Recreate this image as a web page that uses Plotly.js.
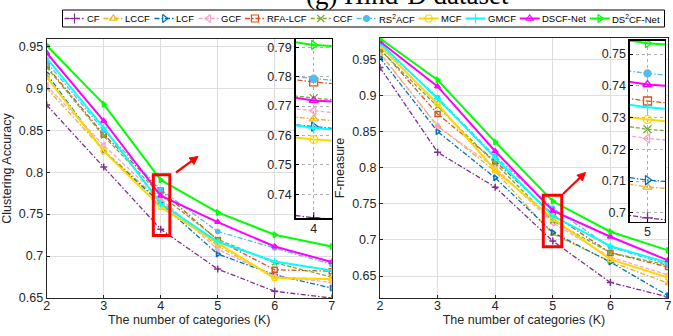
<!DOCTYPE html>
<html><head><meta charset="utf-8">
<script src="https://cdn.plot.ly/plotly-3.0.1.min.js"></script>
<style>html,body{margin:0;padding:0;background:#fff}#chart{width:673px;height:336px}</style>
</head><body><div id="chart"></div>
<script>
// ---------- data ----------
const categories = [2, 3, 4, 5, 6, 7];
const methodNames = ['CF','LCCF','LCF','GCF','RFA-LCF','CCF','RS<sup>2</sup>ACF','MCF','GMCF','DSCF-Net','DS<sup>2</sup>CF-Net'];

// Clustering Accuracy
const accCF    = [0.880, 0.806, 0.7320, 0.6845, 0.658, 0.650];
const accLCCF  = [0.900, 0.826, 0.7656, 0.712, 0.675, 0.672];
const accLCF   = [0.917, 0.825, 0.7630, 0.7024, 0.6777, 0.6619];
const accGCF   = [0.903, 0.832, 0.7684, 0.708, 0.676, 0.6686];
const accRFA   = [0.9265, 0.845, 0.7782, 0.719, 0.6837, 0.682];
const accCCF   = [0.925, 0.843, 0.7727, 0.720, 0.692, 0.675];
const accRS2   = [0.931, 0.850, 0.7793, 0.7293, 0.7095, 0.690];
const accMCF   = [0.9135, 0.825, 0.7586, 0.7155, 0.6735, 0.6726];
const accGMCF  = [0.936, 0.853, 0.7625, 0.717, 0.6936, 0.6829];
const accDSCF  = [0.942, 0.861, 0.7719, 0.7405, 0.7114, 0.6929];
const accDS2CF = [0.951, 0.881, 0.7908, 0.752, 0.7254, 0.7114];

// F-measure
const fmCF    = [0.9387, 0.8213, 0.773, 0.6984, 0.641, 0.621];
const fmLCCF  = [0.9576, 0.858, 0.795, 0.7081, 0.670, 0.640];
const fmLCF   = [0.952, 0.8499, 0.7859, 0.7103, 0.6693, 0.6228];
const fmGCF   = [0.959, 0.857, 0.800, 0.7234, 0.676, 0.6515];
const fmRFA   = [0.965, 0.8743, 0.809, 0.7352, 0.682, 0.6624];
const fmCCF   = [0.963, 0.885, 0.806, 0.7263, 0.6823, 0.665];
const fmRS2   = [0.970, 0.8972, 0.8157, 0.7439, 0.690, 0.666];
const fmMCF   = [0.9686, 0.888, 0.7964, 0.7294, 0.673, 0.648];
const fmGMCF  = [0.9723, 0.8955, 0.8135, 0.7332, 0.6914, 0.6685];
const fmDSCF  = [0.9746, 0.9124, 0.8227, 0.7404, 0.7044, 0.6717];
const fmDS2CF = [0.9787, 0.9213, 0.8356, 0.7534, 0.7113, 0.6855];

const accSeries = [accCF, accLCCF, accLCF, accGCF, accRFA, accCCF, accRS2, accMCF, accGMCF, accDSCF, accDS2CF];
const fmSeries  = [fmCF, fmLCCF, fmLCF, fmGCF, fmRFA, fmCCF, fmRS2, fmMCF, fmGMCF, fmDSCF, fmDS2CF];

const accTickVals = [0.65, 0.7, 0.75, 0.8, 0.85, 0.9, 0.95];
const accTickText = ['0.65','0.7','0.75','0.8','0.85','0.9','0.95'];
const fmTickVals  = [0.65, 0.7, 0.75, 0.8, 0.85, 0.9, 0.95];
const fmTickText  = ['0.65','0.7','0.75','0.8','0.85','0.9','0.95'];
const accInsetTickVals = [0.74, 0.75, 0.76, 0.77, 0.78, 0.79];
const accInsetTickText = ['0.74','0.75','0.76','0.77','0.78','0.79'];
const fmInsetTickVals  = [0.70, 0.71, 0.72, 0.73, 0.74, 0.75];
const fmInsetTickText  = ['0.7','0.71','0.72','0.73','0.74','0.75'];

// ---------- styles ----------
const colors  = ['#7E2F8E','#EDB120','#0072BD','#F6A5C8','#D95319','#77AC30','#4DBEEE','#FFD700','#00FFFF','#FF00FF','#00FF00'];
const DD = '5px,2px,1.5px,2px', DS = '4px,2px';
const dashes  = [DD, DD, DD, DS, DD, DS, DD, 'solid','solid','solid','solid'];
const widths  = [1.3,1.3,1.3,1.3,1.3,1.3,1.3,2,2,2,2];
const symbols = ['cross-thin-open','triangle-up-open','triangle-right-open','triangle-left-open','square-open','x-thin-open','circle','circle-open','cross-thin-open','triangle-up-open','triangle-right-open'];

const FONT = 'Liberation Sans, Arial, sans-serif';
const TXT = '#262626';

const traces = [];
function addSet(series, xa, ya, msize, mlw) {
  series.forEach((ys, i) => {
    traces.push({
      x: categories, y: ys, xaxis: xa, yaxis: ya, type: 'scatter', mode: 'lines+markers',
      name: methodNames[i], showlegend: false, cliponaxis: true, hoverinfo: 'skip',
      line: {color: colors[i], width: widths[i], dash: dashes[i]},
      marker: {symbol: symbols[i], size: symbols[i]==='circle' ? msize-1 : msize, color: colors[i], line: {color: colors[i], width: mlw}}
    });
  });
}
addSet(accSeries, 'x', 'y', 5, 1.5);
addSet(fmSeries, 'x2', 'y2', 5, 1.5);
addSet(accSeries, 'x3', 'y3', 8, 1.3);
addSet(fmSeries, 'x4', 'y4', 8, 1.3);

// ---------- custom one-row legend ----------
const legSize = 9.5;
const ctx = document.createElement('canvas').getContext('2d');
function textW(name) {
  const parts = name.split(/<sup>|<\/sup>/);
  let w = 0;
  parts.forEach((p, k) => { ctx.font = (k % 2 ? legSize * 0.7 : legSize) + 'px "Liberation Sans"'; w += ctx.measureText(p).width; });
  return w;
}
const boxL = 62.5, boxR = 664.5, symLen = 20, symGap = 2;
const tws = methodNames.map(textW);
const used = tws.reduce((a, b) => a + b, 0) + methodNames.length * (symLen + symGap);
const gap = (boxR - boxL - 3 - used) / methodNames.length;
const legAnn = [];
let cx = boxL + 2;
methodNames.forEach((nm, i) => {
  traces.push({x: [cx, cx + symLen], y: [0.5, 0.5], xaxis: 'x5', yaxis: 'y5', mode: 'lines', showlegend: false, hoverinfo: 'skip',
    line: {color: colors[i], width: widths[i], dash: dashes[i]}});
  traces.push({x: [cx + symLen / 2], y: [0.5], xaxis: 'x5', yaxis: 'y5', mode: 'markers', showlegend: false, hoverinfo: 'skip',
    marker: {symbol: symbols[i], size: symbols[i]==='circle' ? 6 : 7, color: colors[i], line: {color: colors[i], width: 1.2}}});
  legAnn.push({x: cx + symLen + symGap - 1, y: 0.5, xref: 'x5', yref: 'y5', xanchor: 'left', yanchor: 'middle', showarrow: false,
    text: nm, font: {family: FONT, size: legSize, color: '#000'}, borderpad: 0});
  cx += symLen + symGap + tws[i] + gap;
});

// ---------- red zoom arrows (shapes, pixel positions -> paper) ----------
const W = 673, H = 336;
function arrowShapes(tx, ty, hx, hy) {
  const dx = hx - tx, dy = hy - ty, L = Math.hypot(dx, dy), ux = dx / L, uy = dy / L;
  const hl = 8, hw = 4;
  const bx = hx - ux * hl, by = hy - uy * hl;
  const p = (x, y) => (x / W) + ',' + (1 - y / H);
  return [
    {type: 'line', xref: 'paper', yref: 'paper', x0: tx / W, y0: 1 - ty / H, x1: bx / W, y1: 1 - by / H, line: {color: '#FF0000', width: 2.2}},
    {type: 'path', xref: 'paper', yref: 'paper', fillcolor: '#FF0000', line: {color: '#FF0000', width: 1},
     path: 'M' + p(hx, hy) + ' L' + p(bx - uy * hw, by + ux * hw) + ' L' + p(bx + uy * hw, by - ux * hw) + ' Z'}
  ];
}

// ---------- layout ----------
const tickFont = {family: FONT, size: 12.5, color: TXT};
function mainX(domain, anchor) {
  return {domain: domain, anchor: anchor, range: [2, 7], tickvals: categories, ticks: 'inside', ticklen: 3, tickcolor: TXT,
    showgrid: true, gridcolor: '#dedede', gridwidth: 1, showline: true, linecolor: TXT, linewidth: 1, mirror: true, zeroline: false,
    tickfont: tickFont, ticklabelstandoff: -4,
    title: {text: 'The number of categories (K)', font: {family: FONT, size: 12.5, color: TXT}, standoff: 2}};
}
function mainY(domain, anchor, range, tv, tt, title) {
  return {domain: domain, anchor: anchor, range: range, tickvals: tv, ticktext: tt, ticks: 'inside', ticklen: 3, tickcolor: TXT,
    showgrid: true, gridcolor: '#dedede', gridwidth: 1, showline: true, linecolor: TXT, linewidth: 1, mirror: true, zeroline: false,
    tickfont: tickFont, title: {text: title, font: {family: FONT, size: 12.5, color: TXT}, standoff: 4}};
}
function insetX(domain, anchor, range, tv) {
  return {domain: domain, anchor: anchor, range: range, tickvals: tv, ticks: 'inside', ticklen: 3, tickcolor: '#000',
    showgrid: true, gridcolor: '#b0b0b0', griddash: 'dot', showline: true, linecolor: '#000', linewidth: 1.5, mirror: true, zeroline: false,
    tickfont: tickFont, ticklabelstandoff: -2};
}
function insetY(domain, anchor, range, tv, tt) {
  return {domain: domain, anchor: anchor, range: range, tickvals: tv, ticktext: tt, ticks: 'inside', ticklen: 3, tickcolor: '#000',
    showgrid: true, gridcolor: '#b0b0b0', griddash: 'dot', showline: true, linecolor: '#000', linewidth: 1.5, mirror: true, zeroline: false,
    tickfont: tickFont};
}

const layout = {
  width: W, height: H, margin: {l: 0, r: 0, t: 0, b: 0},
  paper_bgcolor: '#ffffff', plot_bgcolor: '#ffffff', showlegend: false,
  xaxis:  mainX([0.0694, 0.4929], 'y'),
  yaxis:  mainY([0.113, 0.884], 'x', [0.65, 0.9587], accTickVals, accTickText, 'Clustering Accuracy'),
  xaxis2: mainX([0.5646, 0.9926], 'y2'),
  yaxis2: mainY([0.114, 0.886], 'x2', [0.62, 0.979], fmTickVals, fmTickText, 'F-measure'),
  xaxis3: insetX([0.4394, 0.4929], 'y3', [3.99, 4.01], [4]),
  yaxis3: insetY([0.3503, 0.8830], 'x3', [0.7318, 0.7927], accInsetTickVals, accInsetTickText),
  xaxis4: insetX([0.9361, 0.9881], 'y4', [4.99, 5.01], [5]),
  yaxis4: insetY([0.3402, 0.8780], 'x4', [0.6972, 0.7541], fmInsetTickVals, fmInsetTickText),
  xaxis5: {domain: [0, 1], anchor: 'y5', range: [0, 673], visible: false, fixedrange: true},
  yaxis5: {domain: [1 - 27 / 336, 1 - 10 / 336], anchor: 'x5', range: [0, 1], visible: false, fixedrange: true},
  shapes: [
    {type: 'rect', xref: 'paper', yref: 'paper', x0: boxL / W, x1: boxR / W, y0: 1 - 27 / H, y1: 1 - 10 / H,
     line: {color: '#000', width: 1}, fillcolor: 'rgba(0,0,0,0)', layer: 'below'},
    {type: 'rect', xref: 'x', yref: 'y', x0: 3.87, x1: 4.16, y0: 0.7245, y1: 0.797, line: {color: '#FF0000', width: 3}},
    {type: 'rect', xref: 'x2', yref: 'y2', x0: 4.835, x1: 5.155, y0: 0.6906, y1: 0.7619, line: {color: '#FF0000', width: 3}}
  ].concat(arrowShapes(176, 172.5, 198, 156.5)).concat(arrowShapes(563, 194, 585.5, 172.5)),
  annotations: [
    {text: '(g) Hind-D dataset', xref: 'paper', yref: 'paper', x: 407 / W, y: 1 - 12 / H, xanchor: 'center', yanchor: 'bottom',
     showarrow: false, font: {family: 'Liberation Serif, Times New Roman, serif', size: 27, color: '#000'}}
  ].concat(legAnn)
};

Plotly.newPlot('chart', traces, layout, {staticPlot: true, displayModeBar: false});
</script>
</body></html>
